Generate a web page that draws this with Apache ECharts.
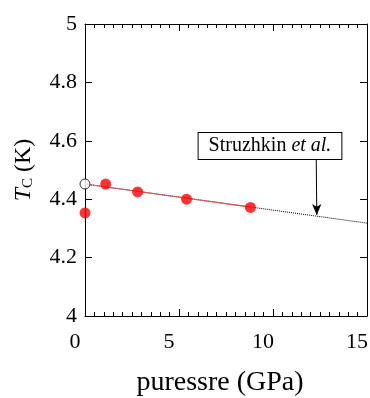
<!DOCTYPE html>
<html>
<head>
<meta charset="utf-8">
<script src="https://cdn.jsdelivr.net/npm/echarts@6/dist/echarts.min.js"></script>
<style>
  html, body { margin: 0; padding: 0; background: #fff; }
  #chart { width: 370px; height: 398px; }
</style>
</head>
<body>
<div id="chart"></div>
<script>
// measured Tc vs pressure (red dots)
const pressure = [0, 1.1, 2.8, 5.4, 8.8];
const tc = [4.353, 4.452, 4.425, 4.400, 4.372];

// open circle at ambient pressure
const openPressure = [0];
const openTc = [4.452];

// linear fit: solid red part and dotted extrapolation
const fitPressure = [0, 8.8];
const fitTc = [4.452, 4.373];
const extPressure = [0, 15];
const extTc = [4.452, 4.318];

// Struzhkin et al. annotation: label anchor and arrow
const noteAt = [9.84, 4.582];
const arrowFrom = [12.3, 4.538];
const arrowTo = [12.33, 4.346];

const xTicks = [0, 5, 10, 15];
const yTicks = [4, 4.2, 4.4, 4.6, 4.8, 5];

const FONT = '"Liberation Serif", "DejaVu Serif", serif';
const pairs = (xs, ys) => xs.map((x, i) => [x, ys[i]]);

const chart = echarts.init(document.getElementById('chart'));

const GRID = { left: 85, right: 3, top: 24, bottom: 82, outerBoundsMode: 'none' };
const xRange = { type: 'value', min: xTicks[0], max: xTicks[xTicks.length - 1], interval: 5 };
const yRange = { type: 'value', min: yTicks[0], max: yTicks[yTicks.length - 1], interval: 0.2 };

// frame axes on a second grid: border line + inward ticks only
function frameAxis(gridIndex, position, minor) {
  return {
    gridIndex,
    position,
    axisLine: { show: true, onZero: false, lineStyle: { color: '#000', width: 1 } },
    axisTick: { show: true, inside: true, length: 7, lineStyle: { color: '#000', width: 1 } },
    minorTick: { show: minor, splitNumber: 10, length: 4, lineStyle: { color: '#000', width: 1 } },
    axisLabel: { show: false },
    splitLine: { show: false },
  };
}

chart.setOption({
  animation: false,
  grid: [GRID, { ...GRID }],
  xAxis: [
    {
      ...xRange,
      gridIndex: 0,
      position: 'bottom',
      axisLine: { show: false },
      axisTick: { show: false },
      splitLine: { show: false },
      axisLabel: {
        fontFamily: FONT, fontSize: 22, color: '#000', margin: 15,
        padding: [0, 20, 0, 0],
      },
      name: 'puressre (GPa)',
      nameLocation: 'middle',
      nameGap: 53,
      nameTextStyle: { fontFamily: FONT, fontSize: 28, color: '#000', padding: [0, 12, 0, 0] },
    },
    { ...xRange, ...frameAxis(1, 'bottom', true) },
    { ...xRange, ...frameAxis(1, 'top', true) },
  ],
  yAxis: [
    {
      ...yRange,
      gridIndex: 0,
      position: 'left',
      axisLine: { show: false },
      axisTick: { show: false },
      splitLine: { show: false },
      axisLabel: { fontFamily: FONT, fontSize: 22, color: '#000', margin: 8 },
      name: '{t|T}{c|C}{k| (K)}',
      nameLocation: 'middle',
      nameGap: 49,
      nameTextStyle: {
        rich: {
          t: { fontFamily: FONT, fontSize: 24, fontStyle: 'italic', color: '#000' },
          c: { fontFamily: FONT, fontSize: 15, color: '#000', padding: [8, 0, 0, 0] },
          k: { fontFamily: FONT, fontSize: 24, color: '#000' },
        },
      },
    },
    { ...yRange, ...frameAxis(1, 'left', false) },
    { ...yRange, ...frameAxis(1, 'right', false) },
  ],
  series: [
    {
      type: 'line',
      xAxisIndex: 0, yAxisIndex: 0,
      data: pairs(extPressure, extTc),
      showSymbol: false,
      lineStyle: { color: '#000', width: 1, type: 'dotted' },
      z: 1,
      markLine: {
        silent: true,
        symbol: ['none', 'arrow'],
        symbolSize: [7, 11],
        label: { show: false },
        lineStyle: { color: '#000', width: 1, type: 'solid' },
        data: [[{ coord: arrowFrom }, { coord: arrowTo }]],
      },
      markPoint: {
        silent: true,
        symbol: 'rect',
        symbolSize: 0,
        data: [{ coord: noteAt }],
        label: {
          show: true,
          position: 'inside',
          formatter: '{n|Struzhkin }{i|et al.}',
          backgroundColor: '#fff',
          borderColor: '#000',
          borderWidth: 1,
          padding: [3, 10, 3, 10],
          rich: {
            n: { fontFamily: FONT, fontSize: 20, lineHeight: 20, color: '#000' },
            i: { fontFamily: FONT, fontSize: 20, lineHeight: 20, fontStyle: 'italic', color: '#000' },
          },
        },
      },
    },
    {
      type: 'line',
      xAxisIndex: 0, yAxisIndex: 0,
      data: pairs(fitPressure, fitTc),
      showSymbol: false,
      lineStyle: { color: '#d45a5a', width: 1.2 },
      z: 2,
    },
    {
      type: 'scatter',
      xAxisIndex: 0, yAxisIndex: 0,
      data: pairs(pressure, tc),
      symbolSize: 11,
      itemStyle: { color: '#ff0000' },
      z: 4,
    },
    {
      type: 'scatter',
      xAxisIndex: 0, yAxisIndex: 0,
      data: pairs(openPressure, openTc),
      symbolSize: 10,
      itemStyle: { color: '#fff', borderColor: '#000', borderWidth: 1 },
      z: 5,
    },
  ],
});
</script>
</body>
</html>
